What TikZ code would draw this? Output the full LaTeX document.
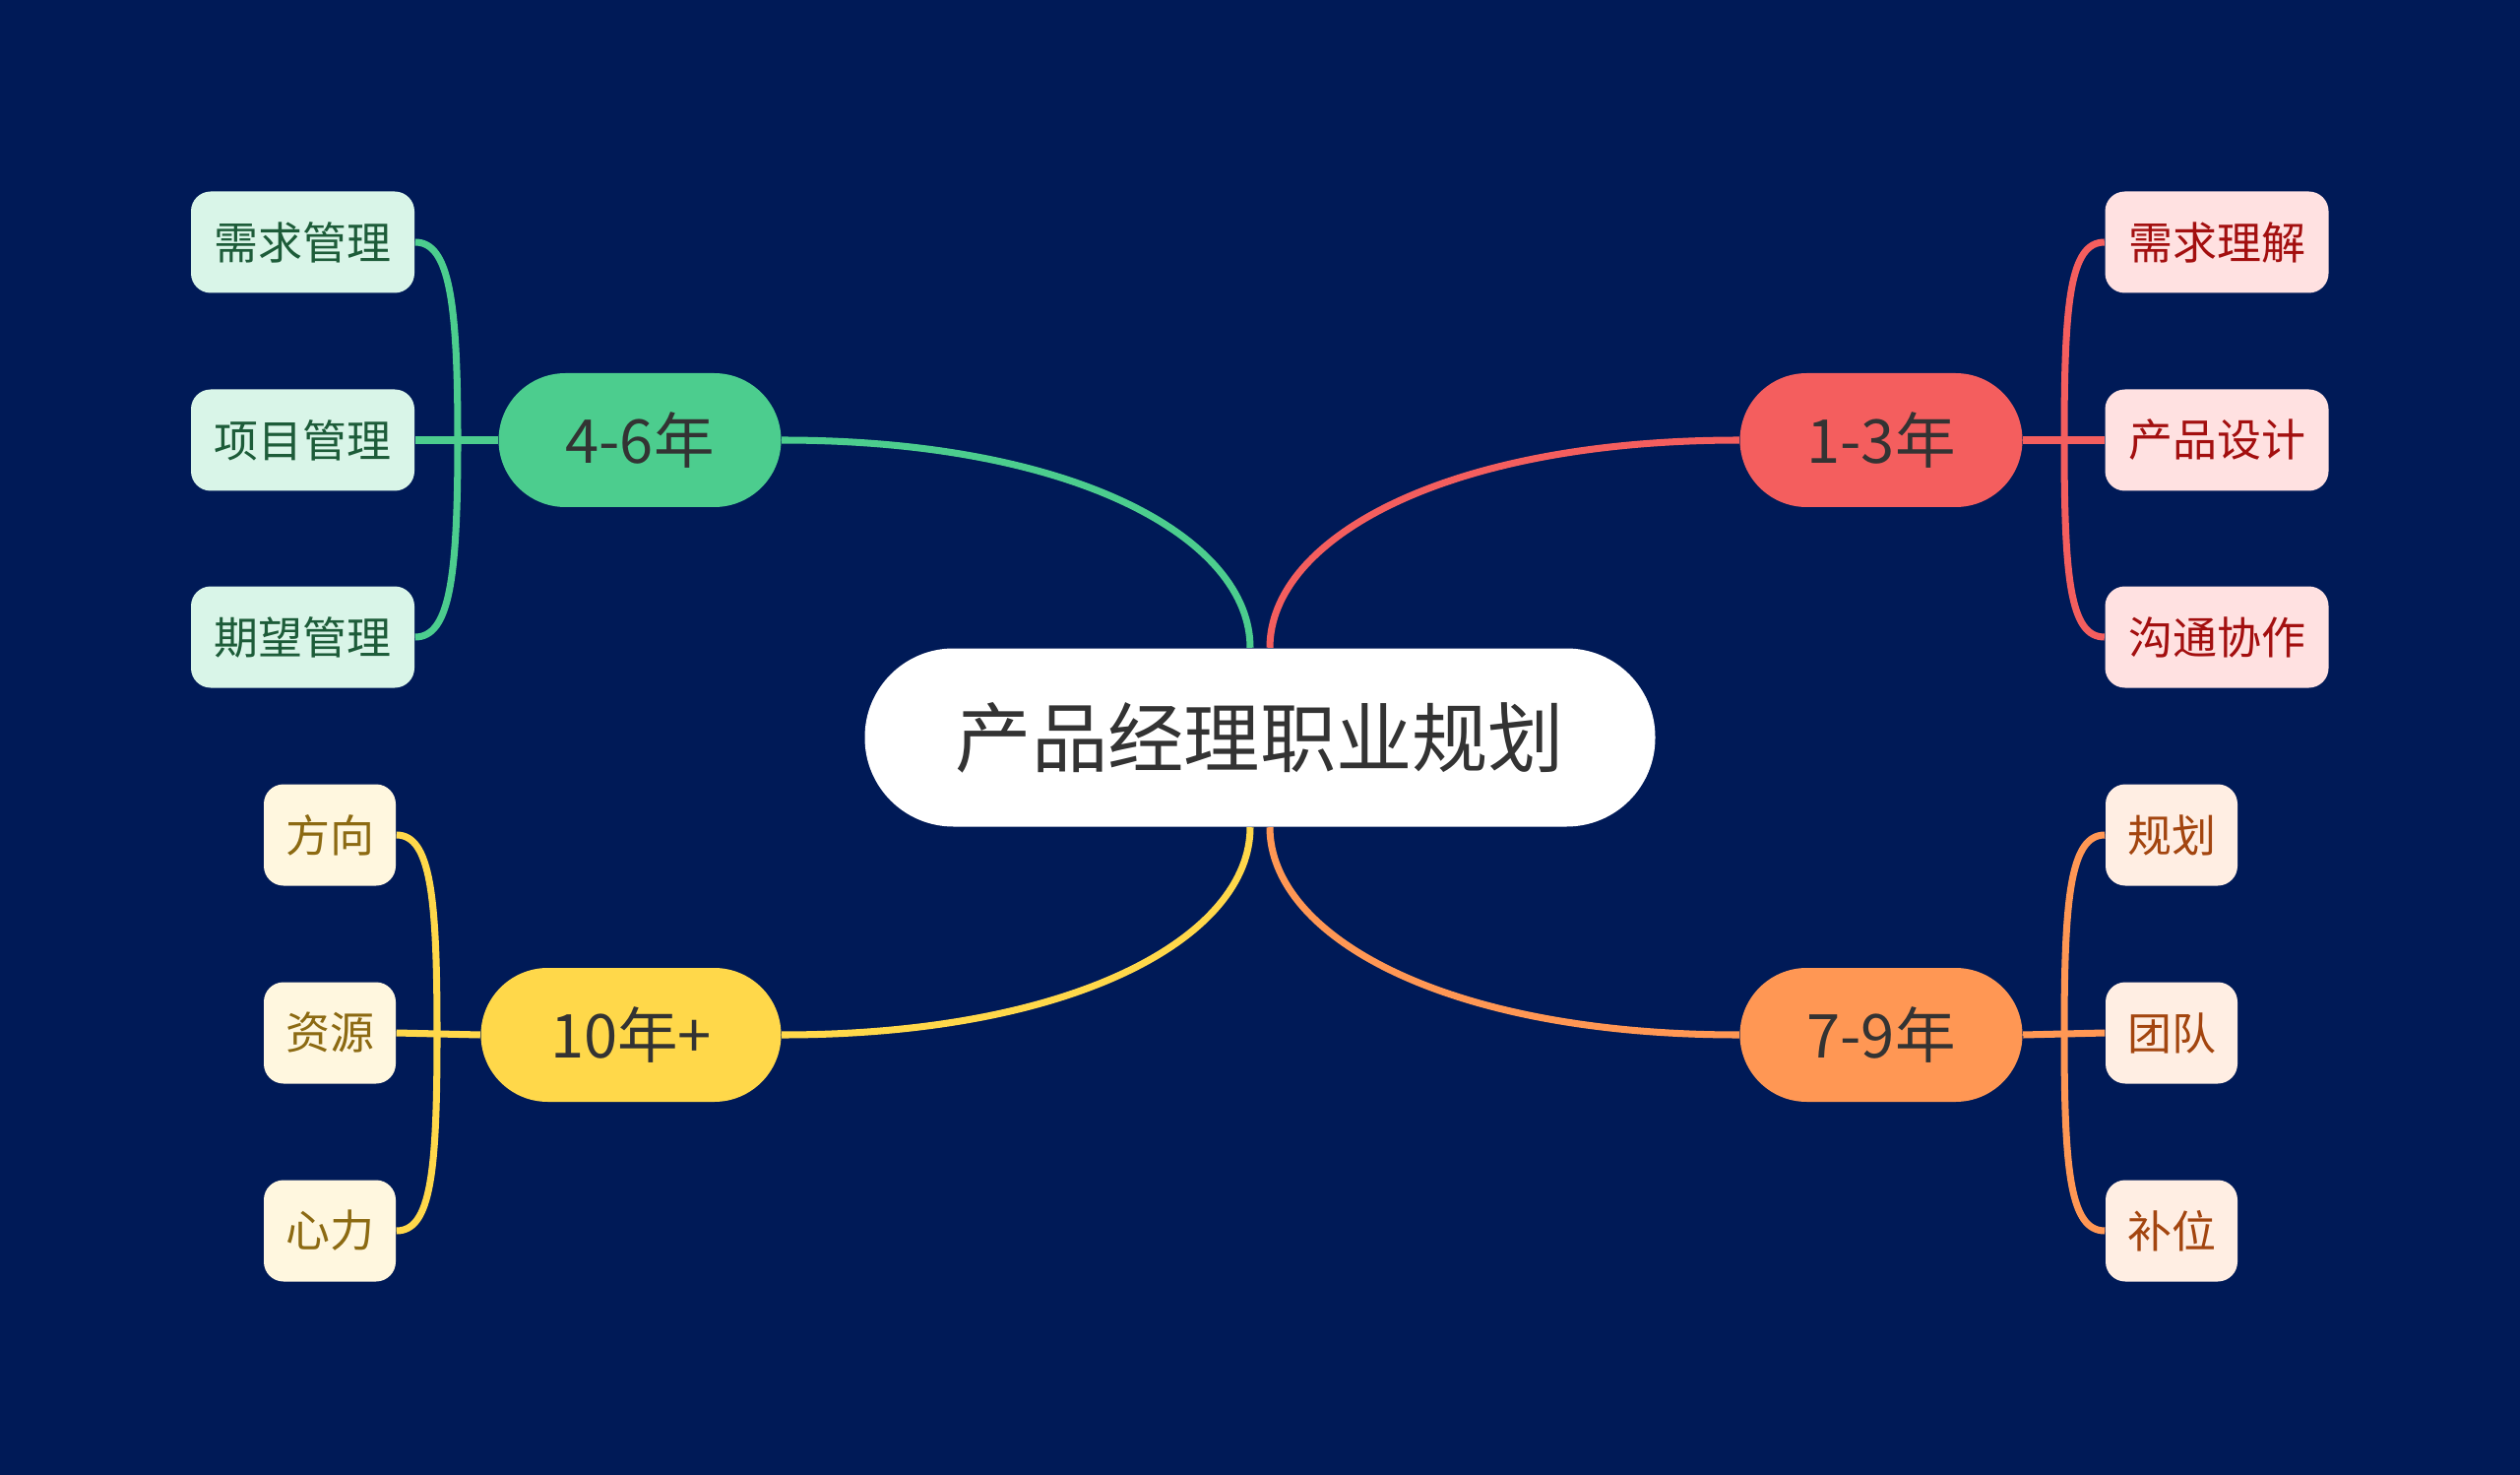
\documentclass[tikz,border=0pt]{standalone}
\usepackage{fontspec}
\setmainfont{Noto Sans CJK SC}
\definecolor{navy}{HTML}{001A57}
\definecolor{gfill}{HTML}{4CCD8E}
\definecolor{gleaf}{HTML}{D9F5E8}
\definecolor{gtext}{HTML}{1D5C39}
\definecolor{rfill}{HTML}{F45E5E}
\definecolor{rleaf}{HTML}{FFE1E1}
\definecolor{rtext}{HTML}{A30F0F}
\definecolor{yfill}{HTML}{FFD84A}
\definecolor{yleaf}{HTML}{FFF7DF}
\definecolor{ytext}{HTML}{8C6A12}
\definecolor{ofill}{HTML}{FF9754}
\definecolor{oleaf}{HTML}{FFEEE3}
\definecolor{otext}{HTML}{A3450F}
\begin{document}
\begin{tikzpicture}[
  root/.style={fill=white, rounded corners=0.9cm, minimum width=8.03cm, minimum height=1.81cm, text=black!80, font=\fontsize{22}{24}\selectfont},
  topic/.style={rounded corners=0.68cm, minimum width=2.87cm, minimum height=1.36cm, text=black!80, font=\fontsize{17.5}{20}\selectfont},
  leaf/.style={rounded corners=0.2cm, minimum width=2.27cm, minimum height=1.03cm, font=\fontsize{12.8}{15}\selectfont},
  short/.style={leaf, minimum width=1.34cm},
  edge/.style={line width=2pt}]
  \useasboundingbox (0,0) rectangle (25.6,14.97);
  \fill[navy] (-0.1,-0.1) rectangle (25.7,15.07);
  \node[root] (c) at (12.80,7.48) {产品经理职业规划};
  \node[topic, fill=gfill] (g) at (6.50,10.50) {4-6年};
  \node[topic, fill=rfill] (r) at (19.11,10.50) {1-3年};
  \node[topic, fill=yfill, minimum width=3.05cm] (y) at (6.41,4.46) {10年+};
  \node[topic, fill=ofill] (o) at (19.11,4.46) {7-9年};
  \node[leaf, fill=gleaf, text=gtext] (g1) at (3.075,12.51) {需求管理};
  \node[leaf, fill=gleaf, text=gtext] (g2) at (3.075,10.50) {项目管理};
  \node[leaf, fill=gleaf, text=gtext] (g3) at (3.075,8.50) {期望管理};
  \node[leaf, fill=rleaf, text=rtext] (r1) at (22.52,12.51) {需求理解};
  \node[leaf, fill=rleaf, text=rtext] (r2) at (22.52,10.50) {产品设计};
  \node[leaf, fill=rleaf, text=rtext] (r3) at (22.52,8.50) {沟通协作};
  \node[short, fill=yleaf, text=ytext] (y1) at (3.35,6.49) {方向};
  \node[short, fill=yleaf, text=ytext] (y2) at (3.35,4.48) {资源};
  \node[short, fill=yleaf, text=ytext] (y3) at (3.35,2.47) {心力};
  \node[short, fill=oleaf, text=otext] (o1) at (22.06,6.49) {规划};
  \node[short, fill=oleaf, text=otext] (o2) at (22.06,4.48) {团队};
  \node[short, fill=oleaf, text=otext] (o3) at (22.06,2.47) {补位};
  \coordinate (gj) at (4.65,10.50);
  \coordinate (rj) at (20.97,10.50);
  \coordinate (yj) at (4.44,4.46);
  \coordinate (oj) at (20.97,4.46);
  \draw[edge, gfill] ([xshift=-1mm]c.north) .. controls +(0,1.1) and +(3,0) .. (g.east);
  \draw[edge, rfill] ([xshift=1mm]c.north) .. controls +(0,1.1) and +(-3,0) .. (r.west);
  \draw[edge, yfill] ([xshift=-1mm]c.south) .. controls +(0,-1.1) and +(3,0) .. (y.east);
  \draw[edge, ofill] ([xshift=1mm]c.south) .. controls +(0,-1.1) and +(-3,0) .. (o.west);
  \draw[edge, gfill] (g.west) -- (g2.east);
  \draw[edge, gfill] (g1.east) .. controls +(0.35,0) and +(0,1.4) .. (gj) .. controls +(0,-1.4) and +(0.35,0) .. (g3.east);
  \draw[edge, rfill] (r.east) -- (r2.west);
  \draw[edge, rfill] (r1.west) .. controls +(-0.35,0) and +(0,1.4) .. (rj) .. controls +(0,-1.4) and +(-0.35,0) .. (r3.west);
  \draw[edge, yfill] (y.west) -- (y2.east);
  \draw[edge, yfill] (y1.east) .. controls +(0.35,0) and +(0,1.4) .. (yj) .. controls +(0,-1.4) and +(0.35,0) .. (y3.east);
  \draw[edge, ofill] (o.east) -- (o2.west);
  \draw[edge, ofill] (o1.west) .. controls +(-0.35,0) and +(0,1.4) .. (oj) .. controls +(0,-1.4) and +(-0.35,0) .. (o3.west);
\end{tikzpicture}
\end{document}
